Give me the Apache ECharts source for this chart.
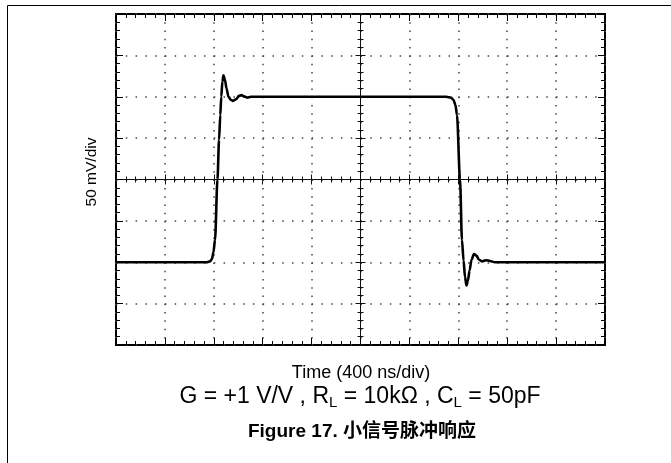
<!DOCTYPE html>
<html>
<head>
<meta charset="utf-8">
<script src="https://cdn.jsdelivr.net/npm/echarts@6/dist/echarts.min.js"></script>
<style>
html,body{margin:0;padding:0;background:#fff;}
#c{width:671px;height:463px;}
</style>
</head>
<body>
<div id="c"></div>
<script>
// time in ns (center of screen = 0), 400 ns/div
const timeNs = [-2000,-1300,-1256,-1231,-1215,-1203,-1190,-1170,-1157,-1147,-1139,-1130,-1121,-1108,-1096,-1080,-1059,-1043,-1018,-994,-973,-953,-928,-896,
  700,740,761,777,789,814,830,843,855,867,879,892,908,928,949,969,994,1027,1059,1100,2000];
// signal in mV, 50 mV/div
const signalMv = [-100,-100,-100,-99,-96,-88,-73,0,48,78,100,118,126,120,110,100,96,95,97,101,102,100.5,99,100,
  100,99,96,90,78,0,-73,-98,-118,-128,-122,-110,-97,-90,-92,-97,-99,-97.5,-98.5,-100,-100];
const xRange = [-2000, 2000];
const xInterval = 400;
const yRange = [-200, 200];
const yInterval = 50;
const yTitle = '50 mV/div';
const xTitle = 'Time (400 ns/div)';
const condParts = ['G = +1 V/V , R', 'L', ' = 10kΩ , C', 'L', ' = 50pF'];
const figTitle = 'Figure 17. 小信号脉冲响应';

const FONT = "'Liberation Sans', Arial, 'Noto Sans CJK SC', sans-serif";
const data = timeNs.map((t, i) => [t, signalMv[i]]);

function borderX(pos, split) {
  return {
    type: 'value', min: xRange[0], max: xRange[1], interval: xInterval, position: pos,
    axisLine: { show: false, onZero: false },
    axisTick: { show: true, inside: true, length: 7, lineStyle: { color: '#000', width: 1 } },
    minorTick: { show: true, splitNumber: 5, length: 4, lineStyle: { color: '#000', width: 1 } },
    axisLabel: { show: false },
    splitLine: { show: split, lineStyle: { color: '#444', width: 1.5, type: [1.5, 6.78] } },
    minorSplitLine: { show: false }
  };
}
function borderY(pos, split) {
  return {
    type: 'value', min: yRange[0], max: yRange[1], interval: yInterval, position: pos,
    axisLine: { show: false, onZero: false },
    axisTick: { show: true, inside: true, length: 7, lineStyle: { color: '#000', width: 1 } },
    minorTick: { show: true, splitNumber: 5, length: 4, lineStyle: { color: '#000', width: 1 } },
    axisLabel: { show: false },
    splitLine: { show: split, lineStyle: { color: '#444', width: 1.5, type: [1.5, 8.28] } },
    minorSplitLine: { show: false }
  };
}
function centerX(pos) {
  return {
    type: 'value', min: xRange[0], max: xRange[1], interval: xInterval, position: pos,
    axisLine: { show: true, onZero: true, onZeroAxisIndex: 0, lineStyle: { color: '#111', width: 1 } },
    axisTick: { show: true, inside: true, length: 5, lineStyle: { color: '#111', width: 1 } },
    minorTick: { show: true, splitNumber: 5, length: 3, lineStyle: { color: '#111', width: 1 } },
    axisLabel: { show: false },
    splitLine: { show: false }
  };
}
function centerY(pos) {
  return {
    type: 'value', min: yRange[0], max: yRange[1], interval: yInterval, position: pos,
    axisLine: { show: true, onZero: true, onZeroAxisIndex: 0, lineStyle: { color: '#111', width: 1 } },
    axisTick: { show: true, inside: true, length: 5, lineStyle: { color: '#111', width: 1 } },
    minorTick: { show: true, splitNumber: 5, length: 3, lineStyle: { color: '#111', width: 1 } },
    axisLabel: { show: false },
    splitLine: { show: false }
  };
}

const chart = echarts.init(document.getElementById('c'), null, { renderer: 'canvas' });
chart.setOption({
  animation: false,
  backgroundColor: '#fff',
  grid: { left: 116, top: 14, width: 489, height: 331, show: true, borderWidth: 2, borderColor: '#000', backgroundColor: 'transparent', containLabel: false },
  xAxis: [borderX('bottom', true), borderX('top', false), centerX('bottom'), centerX('top')],
  yAxis: [borderY('left', true), borderY('right', false), centerY('left'), centerY('right')],
  series: [{
    type: 'line', xAxisIndex: 0, yAxisIndex: 0, data: data, showSymbol: false,
    smooth: 0.3, smoothMonotone: 'x',
    lineStyle: { color: '#000', width: 2.6 }, z: 5
  }],
  graphic: [
    { type: 'line', shape: { x1: 7.5, y1: 5.5, x2: 671, y2: 5.5 }, style: { stroke: '#000', lineWidth: 1 } },
    { type: 'line', shape: { x1: 7.5, y1: 5.5, x2: 7.5, y2: 463 }, style: { stroke: '#000', lineWidth: 1 } },
    { type: 'text', x: 92, y: 172, rotation: Math.PI / 2,
      style: { text: yTitle, fontSize: 15.5, fontFamily: FONT, fill: '#000', align: 'center', verticalAlign: 'middle' } },
    { type: 'text', x: 361, y: 373,
      style: { text: xTitle, fontSize: 18, fontFamily: FONT, fill: '#000', align: 'center', verticalAlign: 'middle' } },
    { type: 'text', x: 360, y: 397,
      style: {
        text: '{a|' + condParts[0] + '}{s|' + condParts[1] + '}{a|' + condParts[2] + '}{s|' + condParts[3] + '}{a|' + condParts[4] + '}',
        align: 'center', verticalAlign: 'middle', fill: '#000',
        rich: {
          a: { fontSize: 23, fontFamily: FONT, lineHeight: 27, fill: '#000' },
          s: { fontSize: 15, fontFamily: FONT, lineHeight: 15, verticalAlign: 'bottom', fill: '#000' }
        }
      } },
    { type: 'text', x: 362, y: 432,
      style: { text: figTitle, fontSize: 19, fontWeight: 'bold', fontFamily: FONT, fill: '#000', align: 'center', verticalAlign: 'middle' } }
  ]
});
</script>
</body>
</html>
